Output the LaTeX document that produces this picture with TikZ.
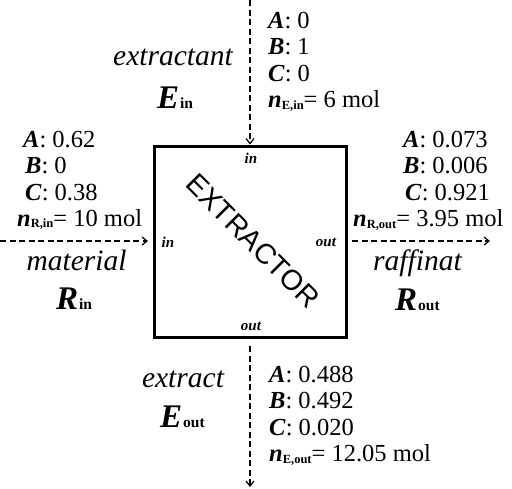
\documentclass[tikz,border=0pt]{standalone}
\usepackage{fontspec}
\setmainfont{Liberation Serif}
\newfontfamily\arialf{Liberation Sans}
\usetikzlibrary{arrows.meta}
\newcommand\bi[1]{\textbf{\textit{#1}}}
\newcommand\ssub[1]{\raisebox{-1.5pt}{\fontsize{12.5}{13}\selectfont\bfseries #1}}
\newcommand\lsub[1]{\kern1pt{\fontsize{15.5}{16}\selectfont\bfseries #1}}
\begin{document}
\begin{tikzpicture}[x=1pt,y=-1pt,
  lst/.style={font=\fontsize{24.5}{26}\selectfont, anchor=base west, inner sep=0pt},
  lab/.style={font=\fontsize{29.5}{32}\selectfont\itshape, anchor=base, inner sep=0pt},
  sym/.style={font=\fontsize{33}{35}\selectfont, anchor=base, inner sep=0pt},
  port/.style={font=\fontsize{15}{16}\selectfont\bfseries\itshape, anchor=base, inner sep=0pt},
  flow/.style={line width=1.2pt, dash pattern=on 6pt off 3.5pt, -{Straight Barb[length=5pt,width=8pt]}}]
\useasboundingbox[fill=white] (0,0) rectangle (512,488);
% reactor box
\node[draw, line width=3pt, minimum width=192pt, minimum height=191pt, inner sep=0pt] (box) at (250,241.5) {};
\node[rotate=-45, font=\arialf\fontsize{28.5}{30}\selectfont, inner sep=0pt] (extr) at (253,241) {EXTRACTOR};
% ports
\node[port] (pin1) at (251,163) {in};
\node[port] (pin2) at (168,247) {in};
\node[port] (pout1) at (326,246) {out};
\node[port] (pout2) at (251,330) {out};
% flows
\coordinate (ts) at (250,0);
\coordinate (bs) at (250,346);
\coordinate (be) at (250,487);
\coordinate (ls) at (0,241);
\coordinate (le) at (148,241);
\coordinate (rs) at (352,241);
\coordinate (re) at (490,241);
\draw[flow] (ts) -- (box.north);
\draw[flow] (bs) -- (be);
\draw[flow] (ls) -- (le);
\draw[flow] (rs) -- (re);
% extractant in
\node[lab] (lext) at (173,65) {extractant};
\node[sym] (sEin) at (175,108) {\bi{E}\lsub{in}};
\node[lst] (tA) at (268,28) {\bi{A}: 0};
\node[lst] (tB) at (268,54.5) {\bi{B}: 1};
\node[lst] (tC) at (268,81) {\bi{C}: 0};
\node[lst] (tn) at (268,107.5) {\bi{n}\ssub{E,in}= 6 mol};
% material in
\node[lst] (lA) at (23,147) {\bi{A}: 0.62};
\node[lst] (lB) at (25,173.5) {\bi{B}: 0};
\node[lst] (lC) at (25,200) {\bi{C}: 0.38};
\node[lst] (ln) at (17,226) {\bi{n}\ssub{R,in}= 10 mol};
\node[lab] (lmat) at (76.5,270) {material};
\node[sym] (sRin) at (74,309) {\bi{R}\lsub{in}};
% raffinat out
\node[lst] (rA) at (403,147) {\bi{A}: 0.073};
\node[lst] (rB) at (403,173.5) {\bi{B}: 0.006};
\node[lst] (rC) at (405,200) {\bi{C}: 0.921};
\node[lst] (rn) at (353,226.5) {\bi{n}\ssub{R,out}= 3.95 mol};
\node[lab] (lraf) at (417.5,270) {raffinat};
\node[sym] (sRout) at (417.5,310) {\bi{R}\lsub{out}};
% extract out
\node[lab] (lextr) at (183,387) {extract};
\node[sym] (sEout) at (182.5,427) {\bi{E}\lsub{out}};
\node[lst] (bA) at (269,382) {\bi{A}: 0.488};
\node[lst] (bB) at (269,408.5) {\bi{B}: 0.492};
\node[lst] (bC) at (269,435) {\bi{C}: 0.020};
\node[lst] (bn) at (269,461.5) {\bi{n}\ssub{E,out}= 12.05 mol};
\end{tikzpicture}
\end{document}
